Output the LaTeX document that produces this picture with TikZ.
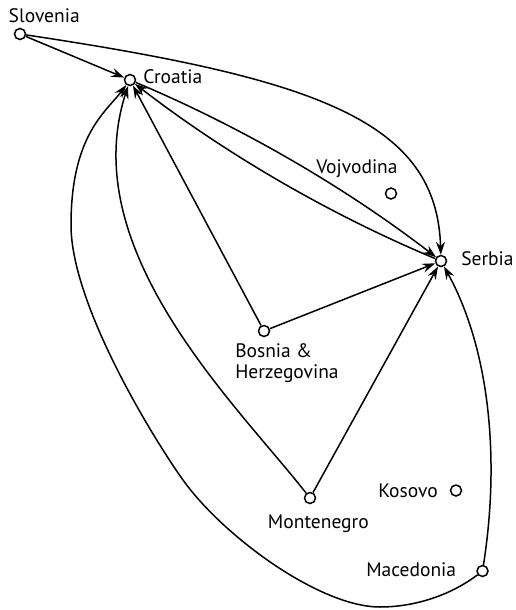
\documentclass[tikz,border=0pt]{standalone}
\usepackage{fontspec}
\setmainfont{PT Sans}
\usetikzlibrary{arrows.meta}
\begin{document}
\begin{tikzpicture}[x=1pt,y=-1pt,line width=1.5pt,
  vtx/.style={circle,draw,fill=white,inner sep=0pt,minimum size=11pt},
  lbl/.style={inner sep=0pt,font=\fontsize{19.5}{21}\selectfont},
  arr/.style={-{Stealth[length=13pt,width=9pt,inset=4.5pt]}}]
\useasboundingbox (0,0) rectangle (516,610);
% vertices
\node[vtx] (slo) at (20,34) {};
\node[vtx] (cro) at (130,80) {};
\node[vtx] (voj) at (391,193.5) {};
\node[vtx] (ser) at (441,261) {};
\node[vtx] (bos) at (264,331) {};
\node[vtx] (mon) at (310,498) {};
\node[vtx] (kos) at (456,490.5) {};
\node[vtx] (mac) at (482.5,571) {};
% labels
\node[lbl,anchor=base west] (slol) at (8,22.5) {Slovenia};
\node[lbl,anchor=base west] (crol) at (142.5,83) {Croatia};
\node[lbl,anchor=base west] (vojl) at (315.5,173) {Vojvodina};
\node[lbl,anchor=base west] (serl) at (460.5,265) {Serbia};
\node[lbl,anchor=base west] (bosl) at (234.5,357.5) {Bosnia \&};
\node[lbl,anchor=base west] (bosl2) at (234.5,378.5) {Herzegovina};
\node[lbl,anchor=base east] (monl) at (369.5,528) {Montenegro};
\node[lbl,anchor=base west] (kosl) at (377.5,497) {Kosovo};
\node[lbl,anchor=base west] (macl) at (365.5,576) {Macedonia};
% edges
\draw[arr] (slo) -- (cro);
\draw[arr] (slo) .. controls (320,79) and (437,122) .. (ser);
\draw[arr] (cro) .. controls (241.8,127.1) and (345.7,187.6) .. (ser);
\draw[arr] (ser) .. controls (329.9,214.6) and (226,154.1) .. (cro);
\draw[arr] (bos) -- (cro);
\draw[arr] (bos) -- (ser);
\draw[arr] (mon) -- (ser);
\draw[arr] (mon) .. controls (235.6,403.4) and (75,250) .. (cro);
\draw[arr] (mac) .. controls (500,460) and (490,350) .. (ser);
\draw[arr] (mac) .. controls (451,595) and (415,607) .. (380,607)
  .. controls (320,607) and (223.6,536.7) .. (183,480)
  .. controls (154,439.5) and (71,305) .. (71,225)
  .. controls (71,135) and (106,112) .. (cro);
\end{tikzpicture}
\end{document}
